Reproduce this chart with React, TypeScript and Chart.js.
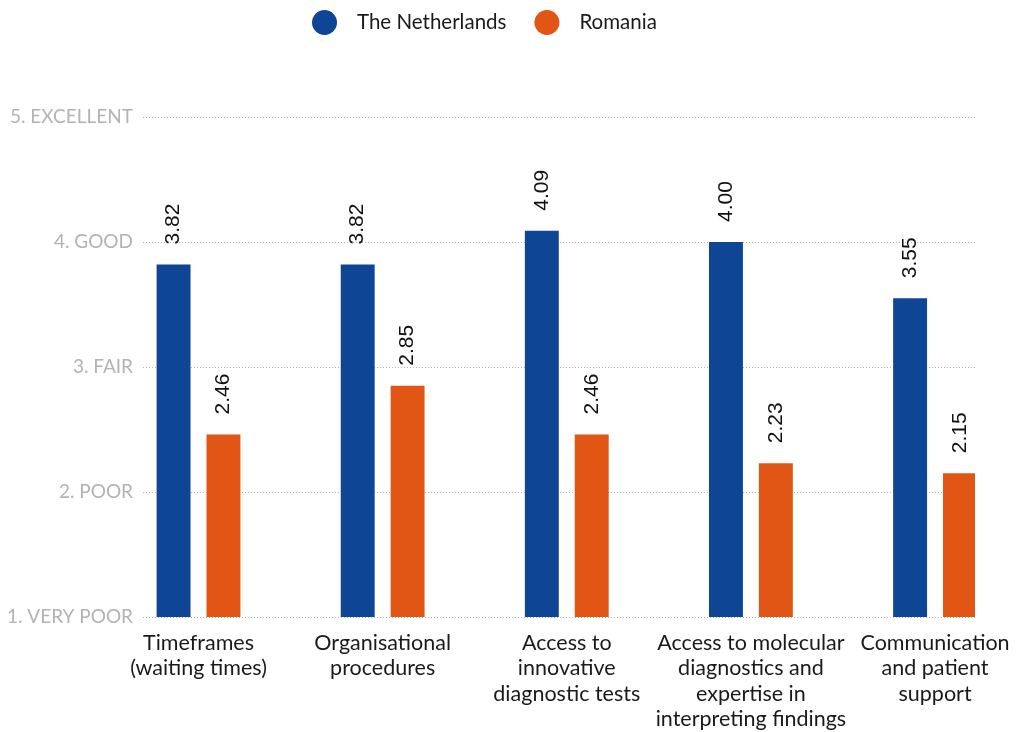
import React, { useEffect, useRef } from 'react';
import { Chart, registerables } from 'chart.js';

Chart.register(...registerables);

const categories: string[][] = [
  ['Timeframes', '(waiting times)'],
  ['Organisational', 'procedures'],
  ['Access to', 'innovative', 'diagnostic tests'],
  ['Access to molecular', 'diagnostics and', 'expertise in', 'interpreting findings'],
  ['Communication', 'and patient', 'support'],
];
const seriesNames = ['The Netherlands', 'Romania'];
const netherlands = [3.82, 3.82, 4.09, 4.0, 3.55];
const romania = [2.46, 2.85, 2.46, 2.23, 2.15];
const yTickLabels = ['1. VERY POOR', '2. POOR', '3. FAIR', '4. GOOD', '5. EXCELLENT'];
const seriesColors = ['#0E4595', '#E15614'];

const valueLabels = {
  id: 'valueLabels',
  afterDatasetsDraw(chart: any) {
    const ctx = chart.ctx;
    chart.data.datasets.forEach((ds: any, di: number) => {
      const meta = chart.getDatasetMeta(di);
      meta.data.forEach((el: any, i: number) => {
        const v = ds.data[i].y;
        ctx.save();
        ctx.translate(el.x, el.y - 20);
        ctx.rotate(-Math.PI / 2);
        ctx.font = '21px "Liberation Sans", Arial, sans-serif';
        ctx.fillStyle = '#111111';
        ctx.textAlign = 'left';
        ctx.textBaseline = 'middle';
        ctx.fillText(v.toFixed(2), 0, 0);
        ctx.restore();
      });
    });
  },
};

const customLegend = {
  id: 'customLegend',
  afterDraw(chart: any) {
    const ctx = chart.ctx;
    ctx.save();
    ctx.font = '20.5px Lato, sans-serif';
    ctx.textBaseline = 'middle';
    ctx.textAlign = 'left';
    let x = 312;
    const cy = 22.5;
    chart.data.datasets.forEach((ds: any) => {
      ctx.fillStyle = ds.backgroundColor;
      ctx.beginPath();
      ctx.arc(x + 12.5, cy, 12.5, 0, Math.PI * 2);
      ctx.fill();
      ctx.fillStyle = '#1a1a1a';
      ctx.fillText(ds.label, x + 45, cy);
      x += 45 + ctx.measureText(ds.label).width + 28;
    });
    ctx.restore();
  },
};

export default function App() {
  const ref = useRef<HTMLCanvasElement | null>(null);
  useEffect(() => {
    if (!ref.current) return;
    const chart = new Chart(ref.current, {
      type: 'bar',
      data: {
        datasets: [netherlands, romania].map((vals, s) => ({
          label: seriesNames[s],
          data: vals.map((v, i) => ({ x: i, y: v })),
          backgroundColor: seriesColors[s],
          borderWidth: 0,
          categoryPercentage: 0.542,
          barPercentage: 0.68,
        })),
      },
      options: {
        animation: false,
        responsive: true,
        maintainAspectRatio: false,
        layout: { padding: { top: 117, right: 45, bottom: 0, left: 0 } },
        plugins: { legend: { display: false }, tooltip: { enabled: false } },
        scales: {
          x: {
            type: 'linear',
            offset: false,
            min: -0.3015,
            max: 4.217,
            grid: { display: false, drawTicks: false, offset: false },
            border: { display: false },
            afterBuildTicks: (s: any) => {
              s.ticks = categories.map((_, i) => ({ value: i }));
            },
            afterFit: (s: any) => {
              s.height = 115;
              s.paddingLeft = 0;
              s.paddingRight = 0;
            },
            ticks: {
              autoSkip: false,
              maxRotation: 0,
              padding: 13,
              color: '#1a1a1a',
              font: { family: 'Lato', size: 21.5, lineHeight: '25.5px' },
              callback: (v: any) => categories[Math.round(v)] ?? '',
            },
          },
          y: {
            min: 1,
            max: 5,
            afterFit: (s: any) => {
              s.width = 143;
            },
            grid: { color: '#b5b5b5', lineWidth: 1, drawTicks: false },
            border: { display: false, dash: [1, 2] },
            ticks: {
              stepSize: 1,
              padding: 10,
              color: '#b3b3b3',
              font: { family: 'Lato', size: 19 },
              callback: (v: any) => yTickLabels[Math.round(v) - 1] ?? '',
            },
          },
        },
      },
      plugins: [valueLabels, customLegend],
    } as any);
    return () => chart.destroy();
  }, []);
  return (
    <div style={{ position: 'absolute', left: 0, top: 0, width: 1020, height: 732 }}>
      <canvas ref={ref} />
    </div>
  );
}
